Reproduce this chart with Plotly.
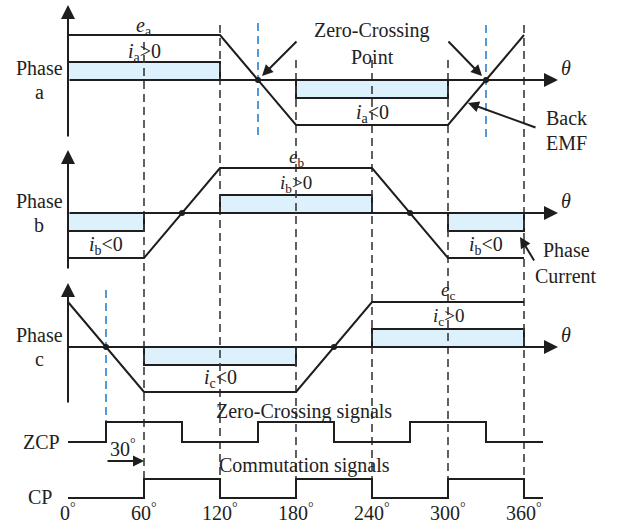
import plotly.graph_objects as go

# ---------------- data ----------------
theta = [0, 60, 120, 180, 240, 300, 360]
e_a = [1, 1, 1, -1, -1, -1, 1]
e_b = [-1, -1, 1, 1, 1, -1, -1]
e_c = [1, -1, -1, -1, 1, 1, 1]

sector_start = [0, 60, 120, 180, 240, 300]
i_a = [0.4, 0.4, 0, -0.4, -0.4, 0]
i_b = [-0.4, 0, 0.4, 0.4, 0, -0.4]
i_c = [0, -0.4, -0.4, 0, 0.4, 0.4]

zc_a = [150, 330]
zc_b = [90, 270]
zc_c = [30, 210]

zcp_theta = [0, 30, 90, 150, 210, 270, 330, 375]
zcp_level = [0, 1, 0, 1, 0, 1, 0, 0]
cp_theta = [0, 60, 120, 180, 240, 300, 360, 375]
cp_level = [0, 1, 0, 1, 0, 1, 0, 0]

tick_deg = [0, 60, 120, 180, 240, 300, 360]
tick_labels = ["0", "60", "120", "180", "240", "300", "360"]

# ---------------- layout helpers ----------------
W, H = 618, 527
X0, PXDEG = 68, 456 / 360.0
def deg(px):
    return (px - X0) / PXDEG

BASE = {"a": 80, "b": 213, "c": 347}
SCALE = 45
BLACK = "#1e1e1e"
DASHC = "#3a3a3a"
BLUE = "#3f8fd6"
FILL = "#dcf1fb"
FONT = "Liberation Serif"
FS = 20

fig = go.Figure()

def yv(phase, v):
    return BASE[phase] - v * SCALE

phases = [("a", e_a, i_a, zc_a), ("b", e_b, i_b, zc_b), ("c", e_c, i_c, zc_c)]

for ph, e, cur, zc in phases:
    b = BASE[ph]
    fig.add_trace(go.Scatter(x=[0, 360], y=[b, b], mode="lines",
                             line=dict(width=0), hoverinfo="skip"))
    xs = [0] + sector_start + [360, 360]
    ys = [b] + [yv(ph, v) for v in cur] + [yv(ph, cur[-1]), b]
    fig.add_trace(go.Scatter(x=xs, y=ys, mode="lines", line_shape="hv",
                             line=dict(color=BLACK, width=2),
                             fill="tonexty", fillcolor=FILL, hoverinfo="skip"))

# dashed vertical grid lines
dash_deg = [60, 120, 180, 240, 300, 360]
dash_top = [42, 25, 60, 60, 60, 25]
for d, t in zip(dash_deg, dash_top):
    fig.add_trace(go.Scatter(x=[d, d], y=[t, 480], mode="lines",
                             line=dict(color=DASHC, width=1.6, dash="8px,5px"),
                             hoverinfo="skip"))

# blue dashed zero-crossing marks
blue_deg = [150, 330, 30]
blue_span = [(23, 137), (25, 137), (290, 425)]
for d, (t, bt) in zip(blue_deg, blue_span):
    fig.add_trace(go.Scatter(x=[d, d], y=[t, bt], mode="lines",
                             line=dict(color=BLUE, width=1.8, dash="8px,5px"),
                             hoverinfo="skip"))

# EMF traces
for ph, e, cur, zc in phases:
    fig.add_trace(go.Scatter(x=theta, y=[yv(ph, v) for v in e], mode="lines",
                             line=dict(color=BLACK, width=2), hoverinfo="skip"))
    fig.add_trace(go.Scatter(x=zc, y=[BASE[ph]] * len(zc), mode="markers",
                             marker=dict(color=BLACK, size=6), hoverinfo="skip"))

# ZCP and CP signals
fig.add_trace(go.Scatter(x=zcp_theta, y=[442 - 20 * v for v in zcp_level],
                         mode="lines", line_shape="hv",
                         line=dict(color=BLACK, width=2), hoverinfo="skip"))
fig.add_trace(go.Scatter(x=cp_theta, y=[498 - 19 * v for v in cp_level],
                         mode="lines", line_shape="hv",
                         line=dict(color=BLACK, width=2), hoverinfo="skip"))

ann = []
def arrow(x0, y0, x1, y1, w=2, size=1.2):
    ann.append(dict(x=x1, y=y1, ax=x0, ay=y0, xref="x", yref="y",
                    axref="x", ayref="y", text="", showarrow=True,
                    arrowhead=2, arrowsize=size, arrowwidth=w,
                    arrowcolor=BLACK, standoff=0, startstandoff=0))

def text(x, y, s, size=FS, xanchor="center"):
    ann.append(dict(x=x, y=y, xref="x", yref="y", text=s, showarrow=False,
                    font=dict(family=FONT, size=size, color="#222"),
                    xanchor=xanchor, yanchor="middle"))

# axes arrows
axes_v = {"a": (138, 5), "b": (270, 150), "c": (404, 283)}
for ph in "abc":
    bt, tp = axes_v[ph]
    arrow(0, bt, 0, tp, w=2, size=1.4)
    arrow(0, BASE[ph], deg(558), BASE[ph], w=2, size=1.4)
    text(deg(566), BASE[ph] - 12, "<i>θ</i>")
    text(deg(39), BASE[ph] - 12, "Phase")
    text(deg(39), BASE[ph] + 12, ph)

# labels for phase a
text(60, 26, "<i>e</i><sub>a</sub>")
text(60, 52, "<i>i</i><sub>a</sub>&gt;0")
text(240, 113, "<i>i</i><sub>a</sub>&lt;0")
text(240, 30, "Zero-Crossing")
text(240, 57, "Point")
text(deg(566), 118, "Back")
text(deg(566), 143, "EMF")
arrow(deg(298), 40, deg(262), 76, w=2, size=1.1)
arrow(deg(447), 40, deg(482), 76, w=2, size=1.1)
arrow(deg(537), 128, deg(468), 103, w=2, size=1.1)

# phase b
text(180, 158, "<i>e</i><sub>b</sub>", size=19)
text(180, 184, "<i>i</i><sub>b</sub>&gt;0", size=19)
text(30, 245, "<i>i</i><sub>b</sub>&lt;0")
text(330, 245, "<i>i</i><sub>b</sub>&lt;0")
text(deg(566), 250, "Phase")
text(deg(566), 276, "Current")
arrow(deg(535), 262, deg(520), 237, w=2, size=1.1)

# phase c
text(300, 291, "<i>e</i><sub>c</sub>", size=19)
text(300, 317, "<i>i</i><sub>c</sub>&gt;0", size=19)
text(120, 378, "<i>i</i><sub>c</sub>&lt;0")

# signals
text(186, 411, "Zero-Crossing signals")
text(187, 465, "Commutation signals")
text(deg(41), 442, "ZCP")
text(deg(40), 497, "CP")
text(deg(123), 448, "30<sup>°</sup>")
arrow(30, 461, 60, 461, w=2, size=1.1)

for d, lab in zip(tick_deg, tick_labels):
    text(d, 512, lab + "<sup>°</sup>")

fig.update_layout(
    width=W, height=H, margin=dict(l=0, r=0, t=0, b=0),
    paper_bgcolor="white", plot_bgcolor="white", showlegend=False,
    xaxis=dict(range=[deg(0), deg(W)], visible=False, fixedrange=True),
    yaxis=dict(range=[H, 0], visible=False, fixedrange=True),
    annotations=ann,
)

fig.write_html("out.html")
